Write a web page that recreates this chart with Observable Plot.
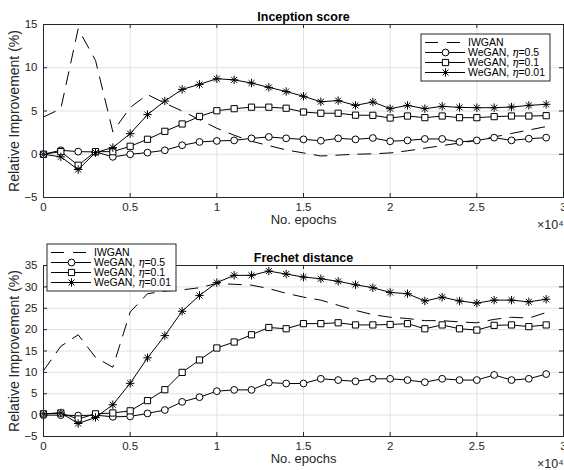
<!DOCTYPE html>
<html><head><meta charset="utf-8">
<script src="https://cdn.jsdelivr.net/npm/d3@7"></script>
<script src="https://cdn.jsdelivr.net/npm/@observablehq/plot@0.6"></script>
<style>
body{margin:0;background:#fff;}
#wrap{width:564px;height:470px;position:relative;overflow:hidden;}
#wrap svg{display:block;}
</style></head><body><div id="wrap"></div>
<script>
// ---- data ----
const epochs = [0,1000,2000,3000,4000,5000,6000,7000,8000,9000,10000,11000,12000,13000,14000,15000,16000,17000,18000,19000,20000,21000,22000,23000,24000,25000,26000,27000,28000,29000];
const xTicks = [0,5000,10000,15000,20000,25000,30000];
const seriesNames = ["IWGAN","WeGAN, η=0.5","WeGAN, η=0.1","WeGAN, η=0.01"];
const etaLabels = [null,"0.5","0.1","0.01"];

// Inception score
const isIWGAN = [4.3,5.27,14.5,10.85,2.6,5.4,6.9,5.9,5.0,4.0,3.0,2.2,1.5,1.0,0.5,0.15,-0.2,-0.1,0.0,0.05,0.15,0.4,0.7,1.0,1.3,1.6,2.0,2.4,2.8,3.2];
const isEta05 = [0,0.46,0.3,0.27,-0.3,0,0.19,0.46,1.04,1.42,1.54,1.6,1.84,2.0,1.84,1.72,1.56,1.84,1.72,1.88,1.5,1.6,1.77,1.77,1.42,1.6,1.92,1.6,1.8,1.92];
const isEta01 = [0,0.3,-1.27,0.3,0.3,0.92,1.73,2.65,3.5,4.37,5.03,5.27,5.44,5.44,5.32,4.88,4.74,4.74,4.52,4.5,4.19,4.42,4.23,4.42,4.23,4.23,4.35,4.42,4.42,4.46];
const isEta001 = [0,-0.3,-1.77,0.19,0.77,2.38,4.58,6.15,7.5,8.08,8.73,8.6,8.23,7.73,7.25,6.7,6.07,6.2,5.65,6.04,5.27,5.65,5.27,5.54,5.42,5.38,5.38,5.46,5.65,5.77];
const isYTicks = [-5,0,5,10,15];

// Frechet distance
const fdIWGAN = [10.4,16.1,18.8,13.5,11.2,24.1,28.4,29.0,29.3,29.8,30.8,30.6,30.4,29.6,28.5,27.6,26.9,25.7,24.5,23.5,22.9,22.6,22.1,22.1,21.8,21.6,22.4,22.9,22.7,24.0];
const fdEta05 = [0,0,-0.1,0,-0.4,-0.3,0.4,1.2,3.1,4.2,5.6,5.9,5.9,7.6,7.4,7.4,8.5,8.2,7.9,8.5,8.5,8.2,7.7,8.5,8.2,8.2,9.4,8.2,8.5,9.6];
const fdEta01 = [0.3,0.5,-0.9,0.3,0.5,1.0,3.4,5.95,10.0,12.9,15.7,17.1,18.8,20.5,20.2,21.4,21.4,21.6,21.1,21.1,21.2,21.4,20.2,21.1,20.2,19.9,21.0,21.1,20.7,21.1];
const fdEta001 = [0.3,0.5,-1.96,-0.55,2.43,7.44,13.4,18.6,24.3,28.0,31.0,32.7,32.7,33.7,33.0,32.3,31.9,31.3,30.5,29.8,28.7,28.4,26.7,27.6,26.7,26.2,26.9,26.9,26.5,27.1];
const fdYTicks = [-5,0,5,10,15,20,25,30,35];

// ---- styling ----
const FONT = '"Liberation Sans", Arial, Helvetica, sans-serif';
const INK = "#262626";
const GRID = "#e2e2e2";
const DASH = "13,9";
const star = {draw(ctx, size){
  const r = Math.sqrt(size/Math.PI), d = r*Math.SQRT1_2;
  ctx.moveTo(-r,0); ctx.lineTo(r,0);
  ctx.moveTo(0,-r); ctx.lineTo(0,r);
  ctx.moveTo(-d,-d); ctx.lineTo(d,d);
  ctx.moveTo(-d,d); ctx.lineTo(d,-d);
}};
const styles = [
  {dash: DASH, symbol: null},
  {symbol: "circle", d3sym: d3.symbolCircle, r: 3.4, fill: "white"},
  {symbol: "square", d3sym: d3.symbolSquare, r: 3.5, fill: "white"},
  {symbol: star, d3sym: star, r: 4.2, fill: "none"}
];

function rowsOf(vals){ return epochs.map((e,i)=>({epoch:e, value:vals[i]})); }

function chart({title, sets, yDomain, yTicks, height, mt, mb}){
  const W = 564, ml = 43, mr = 1;
  const iw = W-ml-mr, ih = height-mt-mb;
  const marks = [
    Plot.gridX(xTicks, {stroke: GRID, strokeOpacity: 1}),
    Plot.gridY(yTicks, {stroke: GRID, strokeOpacity: 1})
  ];
  sets.forEach((vals, i) => {
    const s = styles[i], rows = rowsOf(vals);
    marks.push(Plot.line(rows, {x:"epoch", y:"value", stroke:"black", strokeWidth:1, strokeDasharray: s.dash || null}));
    if (s.symbol) marks.push(Plot.dot(rows, {x:"epoch", y:"value", symbol: s.symbol, r: s.r, stroke:"black", fill: s.fill, strokeWidth:1}));
  });
  marks.push(
    Plot.tickX(xTicks, {x: d=>d, stroke: INK, insetTop: ih-4}),
    Plot.tickX(xTicks, {x: d=>d, stroke: INK, insetBottom: ih-4}),
    Plot.tickY(yTicks, {y: d=>d, stroke: INK, insetRight: iw-4}),
    Plot.tickY(yTicks, {y: d=>d, stroke: INK, insetLeft: iw-4}),
    Plot.frame({stroke: INK}),
    Plot.axisX({ticks: xTicks, tickSize: 0, tickPadding: 5, tickFormat: d => d/1e4, label: null, fontSize: 11.5}),
    Plot.axisY({ticks: yTicks, tickSize: 0, tickPadding: 6, label: null, fontSize: 11.5}),
    Plot.text([title], {text: d=>d, frameAnchor: "top", dy: -8, lineAnchor: "middle", fontWeight: "bold", fontSize: 12.5, fill: "black"}),
    Plot.text(["No. epochs"], {text: d=>d, frameAnchor: "bottom", dy: 22, lineAnchor: "middle", fontSize: 13}),
    Plot.text(["Relative Improvement (%)"], {text: d=>d, frameAnchor: "left", dx: -29, rotate: -90, textAnchor: "middle", lineAnchor: "middle", fontSize: 14}),
    Plot.text(["×10⁴"], {text: d=>d, frameAnchor: "bottom-right", dy: 27, textAnchor: "end", lineAnchor: "middle", fontSize: 12.5})
  );
  return Plot.plot({
    width: W, height, marginLeft: ml, marginRight: mr, marginTop: mt, marginBottom: mb,
    x: {domain: [0, 30000]},
    y: {domain: yDomain},
    style: {fontFamily: FONT, fontSize: "11.5px", color: INK, background: "white", overflow: "hidden"},
    marks
  });
}

function addLegend(svg, x0, y0){
  const g = d3.select(svg).append("g").attr("transform", `translate(${x0},${y0})`).attr("text-anchor", "start");
  g.append("rect").attr("width", 129).attr("height", 47).attr("fill", "white").attr("stroke", INK).attr("stroke-width", 1);
  seriesNames.forEach((name, i) => {
    const s = styles[i], y = 8.5 + i*10;
    g.append("line").attr("x1", 4).attr("x2", 44).attr("y1", y).attr("y2", y)
      .attr("stroke", "black").attr("stroke-width", 1).attr("stroke-dasharray", s.dash || null);
    if (s.symbol) g.append("path").attr("d", d3.symbol(s.d3sym, Math.PI*s.r*s.r)())
      .attr("transform", `translate(24.5,${y})`).attr("stroke", "black").attr("fill", s.fill).attr("stroke-width", 1);
    const t = g.append("text").attr("x", 47).attr("y", y).attr("dy", "0.36em").attr("text-anchor", "start")
      .attr("font-size", 10.5).attr("font-family", FONT).attr("fill", "black");
    if (etaLabels[i] === null) t.text(name);
    else {
      t.append("tspan").text("WeGAN, ");
      t.append("tspan").attr("font-style", "italic").attr("font-family", '"DejaVu Serif", serif').text("η");
      t.append("tspan").text("=" + etaLabels[i]);
    }
  });
}

const wrap = document.getElementById("wrap");
const topChart = chart({title: "Inception score", sets: [isIWGAN, isEta05, isEta01, isEta001], yDomain: [-5, 15], yTicks: isYTicks, height: 235, mt: 24, mb: 38});
addLegend(topChart, 421, 34);
wrap.appendChild(topChart);
const bottomChart = chart({title: "Frechet distance", sets: [fdIWGAN, fdEta05, fdEta01, fdEta001], yDomain: [-5, 35], yTicks: fdYTicks, height: 235, mt: 30, mb: 34});
addLegend(bottomChart, 47, 9);
wrap.appendChild(bottomChart);
</script></body></html>
